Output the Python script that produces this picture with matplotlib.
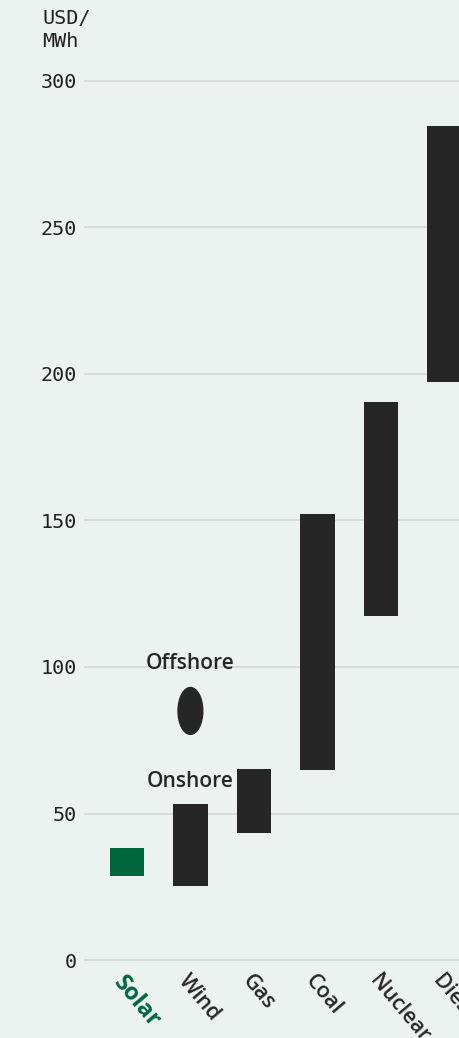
import matplotlib
matplotlib.use("Agg")
import matplotlib.pyplot as plt
from matplotlib.patches import Ellipse

# cost ranges (USD/MWh)
categories = ["Solar", "Wind", "Gas", "Coal", "Nuclear", "Diesel"]
low = [28.7, 25.3, 43.4, 64.8, 117.4, 197.4]
high = [38.2, 53.2, 65.2, 152.2, 190.4, 284.6]
offshore_mid = 85
offshore_span = 16
yticks = [0, 50, 100, 150, 200, 250, 300]

bg = "#ecf2f0"
dark = "#262626"
green = "#00663d"

fig = plt.figure(figsize=(4.59, 10.38), dpi=100)
fig.patch.set_facecolor(bg)
ax = fig.add_axes([85 / 459, 1 - 960 / 1038, 1 - 85 / 459, 879 / 1038])
ax.set_facecolor(bg)

colors = [green] + [dark] * (len(categories) - 1)
heights = [h - l for h, l in zip(high, low)]
ax.bar(range(len(categories)), heights, bottom=low, width=0.54,
       color=colors, zorder=3)

ax.add_patch(Ellipse((1, offshore_mid), 0.39, offshore_span, color=dark, zorder=3))
ax.text(1, 97.5, "Offshore", ha="center", va="bottom", fontsize=15,
        family="Open Sans", weight="semibold", color=dark, zorder=4)
ax.text(1, 57.5, "Onshore", ha="center", va="bottom", fontsize=15,
        family="Open Sans", weight="semibold", color=dark, zorder=4)

ax.set_ylim(0, 300)
ax.set_xlim(-0.66, 5.23)
ax.set_yticks(yticks)
ax.set_yticklabels([str(v) for v in yticks], family="DejaVu Sans Mono",
                   fontsize=14.5, color="#222222")
ax.yaxis.grid(True, color="#d6d6d6", linewidth=1.2, zorder=0)
ax.tick_params(axis="y", length=0, pad=6)
for s in ax.spines.values():
    s.set_visible(False)
for t in ax.yaxis.get_gridlines():
    t.set_clip_on(False)

ax.set_xticks(range(len(categories)))
ax.set_xticklabels(categories, rotation=-50, ha="left", va="top",
                   rotation_mode="anchor", family="Open Sans", fontsize=15.5,
                   color=dark)
ax.tick_params(axis="x", length=0, pad=8)
lbls = ax.get_xticklabels()
lbls[0].set_color(green)
lbls[0].set_weight("bold")
lbls[0].set_fontsize(17)
for lb in lbls[1:]:
    lb.set_weight("semibold")

fig.text(42 / 459, 1 - 9 / 1038, "USD/\nMWh", ha="left", va="top",
         family="DejaVu Sans Mono", fontsize=14.5, color="#222222",
         linespacing=1.25)

fig.savefig("out.png", dpi=100, facecolor=bg)
